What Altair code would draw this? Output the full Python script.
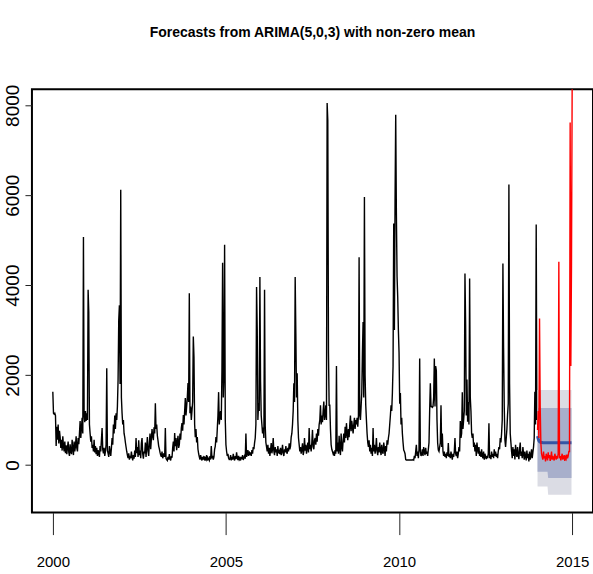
import altair as alt
import pandas as pd

# ---- weekly observations, one list of 52 weeks per year ----
obs_2000 = [1630, 1150, 1130, 1150, 1100, 420, 850, 560, 900, 480,
            760, 620, 380, 560, 320, 640, 420, 300, 520, 260,
            440, 240, 380, 520, 280, 200, 460, 300, 240, 560,
            350, 220, 520, 300, 420, 640, 380, 300, 600, 460,
            700, 980, 600, 820, 1050, 700, 5070, 1100, 950, 1200,
            980, 1150]
obs_2001 = [1000, 3900, 3400, 900, 700, 520, 640, 380, 450, 300,
            560, 280, 420, 240, 380, 200, 330, 260, 180, 420,
            300, 560, 820, 340, 260, 380, 200, 300, 450, 2150,
            320, 260, 180, 420, 300, 200, 380, 600, 450, 900,
            700, 1100, 800, 1150, 1000, 1300, 1890, 3220, 3550, 1800,
            6120, 1500]
obs_2002 = [1150, 900, 1000, 700, 620, 500, 400, 300, 220, 150,
            260, 120, 200, 150, 300, 180, 100, 220, 140, 320,
            180, 600, 260, 400, 180, 550, 220, 320, 150, 480,
            600, 250, 140, 300, 260, 500, 180, 400, 620, 300,
            200, 480, 700, 350, 580, 800, 640, 550, 840, 700,
            1375, 800]
obs_2003 = [900, 650, 540, 420, 360, 280, 220, 180, 300, 150,
            200, 260, 180, 820, 150, 120, 100, 180, 120, 240,
            140, 100, 200, 160, 380, 520, 300, 710, 420, 600,
            330, 500, 650, 380, 450, 700, 560, 820, 930, 760,
            1110, 900, 1200, 1490, 1100, 1300, 1500, 1820, 1400, 3820,
            1150, 1300]
obs_2004 = [1000, 1200, 1400, 2860, 2400, 900, 620, 800, 500, 620,
            350, 250, 180, 120, 220, 150, 100, 180, 120, 200,
            100, 150, 120, 220, 100, 160, 130, 100, 200, 120,
            420, 150, 200, 120, 180, 350, 420, 620, 500, 800,
            1100, 1620, 900, 1100, 1200, 1000, 2100, 4500, 1500, 2000,
            4900, 1000]
obs_2005 = [450, 300, 200, 250, 150, 120, 130, 220, 100, 180,
            120, 250, 150, 100, 200, 130, 280, 160, 110, 200,
            120, 150, 100, 180, 130, 220, 110, 160, 200, 140,
            700, 180, 250, 330, 200, 300, 220, 280, 200, 330,
            250, 400, 350, 490, 600, 900, 3960, 3000, 1000, 1380,
            1200, 4180]
obs_2006 = [1850, 1100, 900, 700, 830, 600, 3900, 870, 500, 400,
            300, 450, 250, 380, 200, 330, 490, 260, 350, 600,
            300, 220, 400, 280, 350, 200, 420, 260, 300, 240,
            380, 220, 300, 450, 260, 200, 350, 280, 420, 300,
            250, 380, 300, 480, 350, 420, 620, 700, 900, 1200,
            1820, 1400]
obs_2007 = [4180, 2930, 1500, 2040, 1000, 600, 450, 300, 400, 250,
            350, 480, 220, 300, 600, 320, 450, 250, 380, 500,
            280, 820, 350, 450, 300, 500, 780, 400, 350, 550,
            600, 450, 700, 520, 800, 650, 900, 1000, 1330, 900,
            1100, 950, 1200, 1410, 1000, 1100, 1330, 1000, 8050, 7660,
            2500, 1330]
obs_2008 = [1330, 800, 450, 350, 300, 250, 300, 200, 330, 250,
            2200, 300, 500, 250, 650, 350, 220, 700, 400, 300,
            550, 700, 500, 850, 600, 930, 700, 550, 800, 620,
            900, 1100, 750, 980, 850, 700, 900, 1050, 800, 1000,
            900, 1050, 850, 1100, 4620, 1100, 1000, 1300, 1600, 2490,
            3180, 1500]
obs_2009 = [5960, 2000, 1330, 1000, 700, 500, 400, 550, 300, 450,
            250, 380, 200, 820, 300, 450, 250, 350, 600, 300,
            220, 400, 280, 500, 330, 220, 450, 300, 250, 500,
            380, 200, 420, 300, 550, 450, 600, 700, 900, 1100,
            1330, 1200, 1600, 2200, 5370, 3000, 5880, 7790, 5600, 4200,
            3740, 3000]
obs_2010 = [2500, 1360, 1600, 900, 1050, 700, 500, 330, 300, 250,
            120, 110, 110, 110, 110, 110, 110, 110, 110, 110,
            110, 120, 110, 200, 150, 300, 450, 200, 300, 150,
            350, 2370, 300, 200, 250, 350, 200, 400, 300, 220,
            380, 250, 300, 200, 350, 500, 1220, 1820, 1300, 1300,
            1280, 1300]
obs_2011 = [1500, 2370, 1300, 2200, 2100, 1000, 490, 330, 300, 400,
            500, 1330, 400, 700, 300, 200, 300, 180, 250, 150,
            280, 200, 490, 180, 250, 150, 300, 200, 120, 250,
            180, 300, 600, 250, 200, 300, 150, 250, 400, 300,
            980, 600, 700, 1620, 800, 1000, 1200, 4260, 3120, 1100,
            1900, 960]
obs_2012 = [1400, 900, 4150, 1500, 1200, 700, 600, 700, 400, 500,
            300, 450, 200, 500, 350, 250, 400, 200, 300, 180,
            350, 200, 150, 300, 120, 250, 180, 130, 200, 150,
            250, 930, 150, 220, 130, 300, 180, 250, 150, 350,
            200, 300, 180, 250, 150, 300, 400, 350, 600, 500,
            700, 1000]
obs_2013 = [4480, 2600, 1300, 560, 400, 600, 800, 1120, 1360, 6240,
            1800, 700, 500, 300, 150, 400, 200, 350, 120, 450,
            250, 180, 400, 220, 130, 350, 500, 200, 300, 150,
            400, 250, 120, 300, 200, 100, 320, 150, 250, 80,
            300, 120, 200, 350, 150, 280, 400, 600, 1630, 900,
            5350, 1000]

# ---- observed values over the forecast horizon ----
actual_2014 = [780, 1200, 600, 3260, 1300, 490, 250, 180, 120, 300,
               150, 200, 80, 250, 180, 100, 280, 150, 220, 90,
               160, 300, 120, 200, 150, 100, 250, 180, 120, 200,
               140, 250, 4520, 150, 200, 100, 180, 250, 120, 160,
               220, 90, 180, 140, 230, 150, 200, 300, 300, 7620,
               2200, 4440, 8400]

# ---- ARIMA(5,0,3) point forecasts and prediction intervals (52 weeks) ----
fc_mean = [640, 580, 540, 520, 510, 505, 500, 498, 495, 495,
           495, 495, 495, 495, 495, 495, 495, 495, 495, 495,
           495, 495, 495, 495, 495, 495, 495, 495, 495, 495,
           495, 495, 495, 495, 495, 495, 495, 495, 495, 495,
           495, 495, 495, 495, 495, 495, 495, 495, 495, 495,
           495, 495]
fc_lo80 = [-150, -150, -150, -150, -150, -150, -150, -150, -150, -150,
           -150, -150, -150, -150, -150, -150, -290, -290, -290, -290,
           -290, -290, -290, -290, -290, -290, -290, -290, -290, -290,
           -290, -290, -290, -290, -290, -290, -290, -290, -290, -290,
           -290, -290, -290, -290, -290, -290, -290, -290, -290, -290,
           -290, -290]
fc_hi80 = [1265, 1265, 1265, 1265, 1265, 1265, 1265, 1265, 1265, 1265,
           1265, 1265, 1265, 1265, 1265, 1265, 1265, 1265, 1265, 1265,
           1265, 1265, 1265, 1265, 1265, 1265, 1265, 1265, 1265, 1265,
           1265, 1265, 1265, 1265, 1265, 1265, 1265, 1265, 1265, 1265,
           1265, 1265, 1265, 1265, 1265, 1265, 1265, 1265, 1265, 1265,
           1265, 1265]
fc_lo95 = [-480, -480, -480, -480, -480, -480, -480, -480, -480, -480,
           -480, -480, -480, -480, -480, -480, -665, -665, -665, -665,
           -665, -665, -665, -665, -665, -665, -665, -665, -665, -665,
           -665, -665, -665, -665, -665, -665, -665, -665, -665, -665,
           -665, -665, -665, -665, -665, -665, -665, -665, -665, -665,
           -665, -665]
fc_hi95 = [1665, 1665, 1665, 1665, 1665, 1665, 1665, 1665, 1665, 1665,
           1665, 1665, 1665, 1665, 1665, 1665, 1665, 1665, 1665, 1665,
           1665, 1665, 1665, 1665, 1665, 1665, 1665, 1665, 1665, 1665,
           1665, 1665, 1665, 1665, 1665, 1665, 1665, 1665, 1665, 1665,
           1665, 1665, 1665, 1665, 1665, 1665, 1665, 1665, 1665, 1665,
           1665, 1665]

x_ticks = [2000, 2005, 2010, 2015]
y_ticks = [0, 2000, 4000, 6000, 8000]

# ---- tables (weekly frequency: time = year + week/52) ----
obs_by_year = {
    2000: obs_2000, 2001: obs_2001, 2002: obs_2002, 2003: obs_2003,
    2004: obs_2004, 2005: obs_2005, 2006: obs_2006, 2007: obs_2007,
    2008: obs_2008, 2009: obs_2009, 2010: obs_2010, 2011: obs_2011,
    2012: obs_2012, 2013: obs_2013,
}
hist = pd.DataFrame(
    [{"t": yr + w / 52, "v": v} for yr, vals in obs_by_year.items() for w, v in enumerate(vals)]
)
test = pd.DataFrame({"t": [2014 + w / 52 for w in range(len(actual_2014))], "v": actual_2014})
fc = pd.DataFrame({
    "t": [2014 + w / 52 for w in range(len(fc_mean))],
    "mean": fc_mean, "lo80": fc_lo80, "hi80": fc_hi80,
    "lo95": fc_lo95, "hi95": fc_hi95,
})

FONT = "Liberation Sans, Arial, sans-serif"

xs = alt.Scale(domain=[1999.397, 2015.602], nice=False, zero=False)
ys = alt.Scale(domain=[-1060, 8356], nice=False, zero=False)

x_axis = alt.Axis(
    values=x_ticks, format="d", title=None, grid=False, domain=False,
    tickSize=22, tickColor="#222222", tickWidth=1,
    labelPadding=20, labelFont=FONT, labelFontSize=15, labelColor="black",
    labelBaseline="top", labelFlush=False, labelOverlap=False,
)
y_axis = alt.Axis(
    values=y_ticks, format="d", title=None, grid=False, domain=False,
    tickSize=7, tickColor="#222222", tickWidth=1,
    labelAngle=270, labelAlign="center", labelBaseline="alphabetic",
    labelPadding=6, labelFont=FONT,
    labelFontSize=19, labelColor="black", labelFlush=False, labelOverlap=False,
)

X = alt.X("t:Q", scale=xs, axis=x_axis)

history = alt.Chart(hist).mark_line(color="black", strokeWidth=1.4, clip=True).encode(
    x=X, y=alt.Y("v:Q", scale=ys, axis=y_axis)
)
band95 = alt.Chart(fc).mark_area(color="#DBDCE4", opacity=1, clip=True).encode(
    x=X, y=alt.Y("lo95:Q", scale=ys, axis=y_axis), y2="hi95:Q"
)
band80 = alt.Chart(fc).mark_area(color="#A8AFCB", opacity=1, clip=True).encode(
    x=X, y=alt.Y("lo80:Q", scale=ys, axis=y_axis), y2="hi80:Q"
)
mean_line = alt.Chart(fc).mark_line(color="#3555A5", strokeWidth=3, clip=True).encode(
    x=X, y=alt.Y("mean:Q", scale=ys, axis=y_axis)
)
actual_line = alt.Chart(test).mark_line(color="#FF0000", strokeWidth=1.4, clip=True).encode(
    x=X, y=alt.Y("v:Q", scale=ys, axis=y_axis)
)

chart = (
    alt.layer(history, band95, band80, mean_line, actual_line)
    .properties(
        width=562,
        height=424,
        padding={"left": 32, "top": 89, "right": 0, "bottom": 61},
        autosize=alt.AutoSizeParams(type="none"),
        background="white",
        title=alt.TitleParams(
            "Forecasts from ARIMA(5,0,3) with non-zero mean",
            font=FONT, fontSize=14, fontWeight="bold", color="black",
            anchor="middle", baseline="alphabetic", offset=33,
        ),
    )
    .configure_view(stroke="black", strokeWidth=2)
)

chart.save("out.html", embed_options={"renderer": "svg", "actions": False})
